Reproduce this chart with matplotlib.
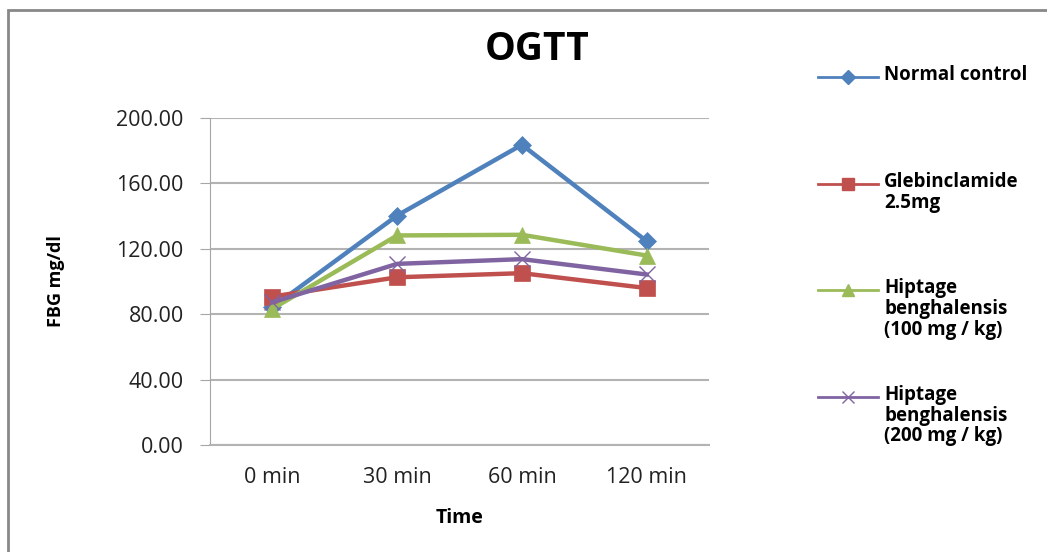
import matplotlib
matplotlib.use('Agg')
import matplotlib.pyplot as plt
from matplotlib.lines import Line2D
from matplotlib.patches import Rectangle

plt.rcParams['font.family'] = ['Open Sans', 'DejaVu Sans']

# OGTT readings, FBG in mg/dl
times = ['0 min', '30 min', '60 min', '120 min']
normal_control = [84.3, 140.4, 183.7, 124.7]
glebinclamide = [90.8, 102.6, 105.1, 96.0]
hb_100 = [83.3, 128.2, 128.6, 115.9]
hb_200 = [87.3, 110.8, 113.7, 104.3]

series = [
    ('Normal control', normal_control, '#4F81BD', 'D', 9),
    ('Glebinclamide\n2.5mg', glebinclamide, '#C0504D', 's', 11),
    ('Hiptage\nbenghalensis\n(100 mg / kg)', hb_100, '#9BBB59', '^', 11),
    ('Hiptage\nbenghalensis\n(200 mg / kg)', hb_200, '#8064A2', 'x', 11),
]

fig = plt.figure(figsize=(10.47, 5.52), dpi=100)
ax = fig.add_axes([0.2006, 0.194, 0.4766, 0.592])

x = range(len(times))
for name, vals, col, mk, ms in series:
    ax.plot(x, vals, color=col, lw=3.2, marker=mk, markersize=ms,
            markerfacecolor=col, markeredgecolor=col,
            markeredgewidth=1.0 if mk == 'x' else 0.5)

ax.set_xlim(-0.5, 3.5)
ax.set_ylim(0, 200)
ax.set_yticks([0, 40, 80, 120, 160, 200])
ax.set_yticklabels(['%.2f' % v for v in [0, 40, 80, 120, 160, 200]])
ax.set_xticks(list(x))
ax.set_xticklabels(times)
ax.grid(axis='y', color='#B3B3B3', lw=1.5)
ax.set_axisbelow(True)
for s in ['top', 'right']:
    ax.spines[s].set_visible(False)
ax.spines['left'].set_color('#A6A6A6')
ax.spines['bottom'].set_color('#B3B3B3')
ax.spines['bottom'].set_linewidth(1.5)
ax.tick_params(axis='y', length=7, color='#A6A6A6', labelsize=15.5,
               labelcolor='#222222', pad=12)
ax.tick_params(axis='x', length=0, labelsize=15.5, labelcolor='#222222', pad=16)

ax.set_xlabel('Time', fontsize=14, fontweight='bold', labelpad=14)
ax.set_ylabel('FBG mg/dl', fontsize=13, fontweight='bold', labelpad=37)

fig.text(0.513, 0.91, 'OGTT', ha='center', va='center',
         fontsize=28, fontweight='bold')

# legend on the right, marker aligned with first text line
leg_y = [77, 184, 290, 397]
for (name, vals, col, mk, ms), py in zip(series, leg_y):
    yf = 1 - py / 552
    fig.add_artist(Line2D([818 / 1047, 878 / 1047], [yf, yf], color=col, lw=2,
                          transform=fig.transFigure))
    fig.add_artist(Line2D([848 / 1047], [yf], color=col, marker=mk,
                          markersize=ms * 0.75, markeredgecolor=col,
                          transform=fig.transFigure))
    fig.text(884 / 1047, yf + 12 / 552, name, ha='left', va='top',
             fontsize=13.5, fontweight='bold', linespacing=1.05)

# chart frame
fig.add_artist(Rectangle((8 / 1047, -0.1), 1.2, 0.1 + (1 - 10 / 552),
                         transform=fig.transFigure, fill=False,
                         edgecolor='#888888', lw=2))

fig.savefig('out.png', dpi=100)
